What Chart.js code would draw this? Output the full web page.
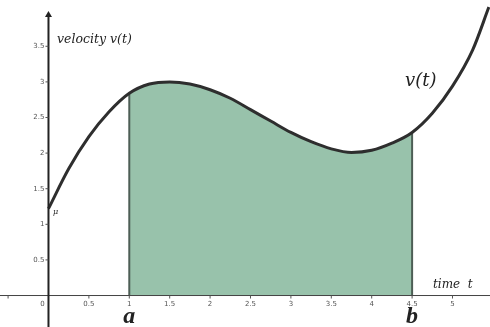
<!DOCTYPE html>
<html>
<head>
<meta charset="utf-8">
<script src="https://cdn.jsdelivr.net/npm/chart.js@4/dist/chart.umd.min.js"></script>
<style>
  html, body { margin: 0; padding: 0; background: #fff; }
  #wrap { width: 490px; height: 327px; position: relative; }
</style>
</head>
<body>
<div id="wrap"><canvas id="velocityChart"></canvas></div>
<script>
// values
const tValues = [0, 0.25, 0.5, 0.75, 1, 1.25, 1.5, 1.75, 2, 2.25, 2.5, 2.75, 3, 3.25, 3.5, 3.75, 4, 4.25, 4.5, 4.75, 5, 5.25, 5.45];
const vValues = [1.22, 1.78, 2.23, 2.58, 2.84, 2.97, 3.0, 2.97, 2.89, 2.77, 2.61, 2.45, 2.29, 2.16, 2.06, 2.01, 2.04, 2.14, 2.29, 2.56, 2.94, 3.45, 4.05];
const bounds = [1, 4.5];
const boundLabels = ['a', 'b'];
const xTicks = [-0.5, 0, 0.5, 1, 1.5, 2, 2.5, 3, 3.5, 4, 4.5, 5];
const xTickLabels = ['', '0', '0.5', '1', '1.5', '2', '2.5', '3', '3.5', '4', '4.5', '5'];
const yTicks = [0.5, 1, 1.5, 2, 2.5, 3, 3.5];
const yTickLabels = ['0.5', '1', '1.5', '2', '2.5', '3', '3.5'];

const curve = tValues.map((t, i) => ({ x: t, y: vValues[i] }));
const area = curve.filter(p => p.x >= bounds[0] && p.x <= bounds[1]);
const edges = bounds.map(b => {
  const p = curve.find(q => q.x === b);
  return [{ x: b, y: 0 }, { x: b, y: p.y }];
});

const axesPlugin = {
  id: 'axes',
  afterDatasetsDraw(chart) {
    const { ctx, scales: { x, y } } = chart;
    const x0 = x.getPixelForValue(0);
    const y0 = y.getPixelForValue(0);
    ctx.save();

    // x axis
    ctx.strokeStyle = '#444';
    ctx.lineWidth = 1;
    ctx.beginPath();
    ctx.moveTo(0, y0);
    ctx.lineTo(chart.width, y0);
    ctx.stroke();

    // y axis with arrow
    const yTop = y.getPixelForValue(3.98);
    ctx.strokeStyle = '#222';
    ctx.lineWidth = 2;
    ctx.beginPath();
    ctx.moveTo(x0, chart.height);
    ctx.lineTo(x0, yTop + 2);
    ctx.stroke();
    ctx.fillStyle = '#222';
    ctx.beginPath();
    ctx.moveTo(x0, yTop - 1);
    ctx.lineTo(x0 - 3.5, yTop + 5);
    ctx.lineTo(x0 + 3.5, yTop + 5);
    ctx.closePath();
    ctx.fill();

    // tick marks and labels
    ctx.strokeStyle = '#555';
    ctx.lineWidth = 1;
    ctx.fillStyle = '#555';
    ctx.font = '7px "DejaVu Sans"';
    ctx.textBaseline = 'middle';
    xTicks.forEach((v, i) => {
      const px = x.getPixelForValue(v);
      if (v !== 0) {
        ctx.beginPath();
        ctx.moveTo(px, y0);
        ctx.lineTo(px, y0 + 3);
        ctx.stroke();
      }
      ctx.textAlign = 'center';
      ctx.fillText(xTickLabels[i], v === 0 ? px - 6 : px, y0 + 9);
    });
    yTicks.forEach((v, i) => {
      const py = y.getPixelForValue(v);
      ctx.beginPath();
      ctx.moveTo(x0 - 3, py);
      ctx.lineTo(x0, py);
      ctx.stroke();
      ctx.textAlign = 'right';
      ctx.fillText(yTickLabels[i], x0 - 4, py);
    });

    // text labels
    ctx.fillStyle = '#222';
    ctx.textAlign = 'left';
    ctx.font = 'italic 12.5px "DejaVu Serif"';
    ctx.fillText('velocity v(t)', 57, 40, 79);
    ctx.font = 'italic 12px "DejaVu Serif"';
    ctx.fillText('time  t', 433, 285, 43);
    ctx.font = 'italic 18px "DejaVu Serif"';
    ctx.fillText('v(t)', 405, 81, 33);
    ctx.font = 'italic 8px "DejaVu Serif"';
    ctx.fillText('μ', 53, 212);
    ctx.font = 'bold italic 24px "Liberation Serif"';
    ctx.textAlign = 'center';
    bounds.forEach((b, i) => {
      ctx.fillText(boundLabels[i], x.getPixelForValue(b), 317);
    });
    ctx.restore();
  }
};

new Chart(document.getElementById('velocityChart'), {
  type: 'line',
  data: {
    datasets: [
      {
        data: curve,
        borderColor: '#2e2e2e',
        borderWidth: 3,
        cubicInterpolationMode: 'monotone',
        pointRadius: 0,
        fill: false,
        order: 0
      },
      {
        data: edges[0],
        borderColor: '#4d5e55',
        borderWidth: 2,
        pointRadius: 0,
        fill: false,
        order: 1
      },
      {
        data: edges[1],
        borderColor: '#4d5e55',
        borderWidth: 2,
        pointRadius: 0,
        fill: false,
        order: 1
      },
      {
        data: area,
        borderWidth: 0,
        borderColor: 'rgba(0,0,0,0)',
        backgroundColor: 'rgb(152,194,171)',
        cubicInterpolationMode: 'monotone',
        pointRadius: 0,
        fill: 'origin',
        order: 2
      }
    ]
  },
  options: {
    responsive: true,
    maintainAspectRatio: false,
    animation: false,
    layout: { padding: 0 },
    plugins: {
      legend: { display: false },
      tooltip: { enabled: false }
    },
    scales: {
      x: { type: 'linear', min: -0.6, max: 5.464, display: false },
      y: { type: 'linear', min: -0.442, max: 4.15, display: false }
    }
  },
  plugins: [axesPlugin]
});
</script>
</body>
</html>
